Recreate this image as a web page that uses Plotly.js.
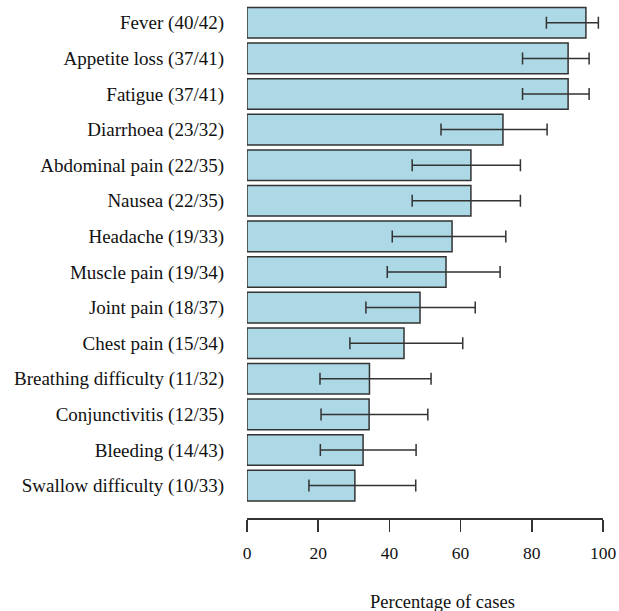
<!DOCTYPE html>
<html>
<head>
<meta charset="utf-8">
<script src="https://cdn.plot.ly/plotly-3.0.1.min.js"></script>
<style>html,body{margin:0;padding:0;background:#fff;} #chart{width:619px;height:611px;}</style>
</head>
<body>
<div id="chart"></div>
<script>
const categories = ["Fever (40/42)","Appetite loss (37/41)","Fatigue (37/41)","Diarrhoea (23/32)","Abdominal pain (22/35)","Nausea (22/35)","Headache (19/33)","Muscle pain (19/34)","Joint pain (18/37)","Chest pain (15/34)","Breathing difficulty (11/32)","Conjunctivitis (12/35)","Bleeding (14/43)","Swallow difficulty (10/33)"];
const percent = [95.2, 90.2, 90.2, 71.9, 62.9, 62.9, 57.6, 55.9, 48.6, 44.1, 34.4, 34.3, 32.6, 30.3];
const ciLower = [84.1, 77.4, 77.4, 54.5, 46.4, 46.4, 40.8, 39.4, 33.4, 28.9, 20.5, 20.8, 20.6, 17.4];
const ciUpper = [98.7, 96.1, 96.1, 84.3, 76.8, 76.8, 72.7, 71.1, 64.1, 60.6, 51.7, 50.8, 47.5, 47.4];
const xTicks = [0, 20, 40, 60, 80, 100];

const trace = {
  type: 'bar', orientation: 'h',
  x: percent, y: categories,
  width: 0.86,
  marker: {color: '#ADD8E6', line: {color: '#333333', width: 1.5}},
  error_x: {type: 'data', symmetric: false,
    array: percent.map((v,i)=>ciUpper[i]-v),
    arrayminus: percent.map((v,i)=>v-ciLower[i]),
    color: '#333333', thickness: 1.5, width: 6},
  hoverinfo: 'skip'
};
const layout = {
  width: 619, height: 611,
  margin: {l: 246.7, r: 15.7, t: 5, b: 93},
  paper_bgcolor: '#fff', plot_bgcolor: '#fff',
  font: {family: 'Liberation Serif, Times New Roman, serif', size: 17, color: '#111'},
  showlegend: false,
  bargap: 0,
  xaxis: {range: [0, 100], tickvals: xTicks, ticktext: xTicks.map(String),
    showgrid: false, zeroline: false, showline: true, linecolor: '#333', linewidth: 1.5,
    ticks: 'outside', ticklen: 12, tickwidth: 1.5, tickcolor: '#333',
    ticklabelstandoff: 6, tickfont: {size: 17.5}},
  yaxis: {type: 'category', range: [13.91, -0.5], showgrid: false, zeroline: false,
    showline: false, ticks: '', ticklabelstandoff: 22, tickfont: {size: 19}},
  annotations: [{text: 'Percentage of cases', xref: 'paper', yref: 'paper',
    x: 0.548, y: -0.163, xanchor: 'center', yanchor: 'middle', showarrow: false,
    font: {size: 18.5}}]
};
Plotly.newPlot('chart', [trace], layout, {displayModeBar: false, staticPlot: true});
</script>
</body>
</html>
